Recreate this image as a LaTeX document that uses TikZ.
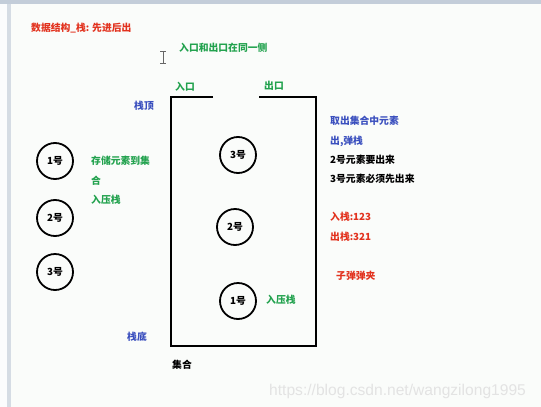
\documentclass[tikz,border=0pt]{standalone}
\usepackage{fontspec}
\setmainfont{Noto Sans CJK SC}
\newfontfamily\urlfont{Liberation Sans}
\usetikzlibrary{positioning}

\definecolor{noteRed}{HTML}{E2321E}
\definecolor{noteGreen}{HTML}{22A24E}
\definecolor{noteBlue}{HTML}{3A4FBE}
\definecolor{paper}{HTML}{FAFCFA}
\definecolor{frame}{HTML}{C3CDD9}

\begin{document}
\begin{tikzpicture}[
	x=1pt, y=-1pt,
	node distance=4pt,
	every node/.style={font=\bfseries\fontsize{9.8}{11}\selectfont, inner sep=1pt},
	label/.style={anchor=west},
	ball/.style={circle, draw, line width=1.8pt, minimum size=36pt, inner sep=0pt}]

\tikzstyle{wall}=[line width=2.6pt]

% screen frame
\fill[frame] (0,0) rectangle (541,407);
\fill[white!94!frame] (0,4) rectangle (541,407);
\fill[frame!70] (7,4) rectangle (11,407);
\fill[paper] (11,4) rectangle (541,407);
\useasboundingbox (0,0) rectangle (541,407);

% headings
\node[label, text=noteRed] (title) at (30,28) {数据结构\_栈: 先进后出};
\node[label, text=noteGreen] (side) at (178,48) {入口和出口在同一侧};

% text cursor
\draw[gray!80!black, line width=0.8pt]
	(160,51) -- (166,51) (163,51) -- (163,63) (160,63) -- (166,63);

% the stack container
\draw[wall] (213,97) -- (171,97) -- (171,346) -- (316,346) -- (316,97) -- (259,97);
\node[label, text=noteGreen] (inlet) at (174,87) {入口};
\node[label, text=noteGreen] (outlet) at (263,86) {出口};
\node[label, text=noteBlue] (top) at (133,106) {栈顶};
\node[label, text=noteBlue] (bottom) at (126,337) {栈底};
\node[label] (set) at (171,365) {集合};

% elements inside
\node[ball] (in3) at (238,155) {3号};
\node[ball] (in2) at (235,227) {2号};
\node[ball] (in1) at (238,301) {1号};
\node[label, text=noteGreen] (push) at (265,300) {入压栈};

% elements waiting outside
\node[ball] (out1) at (55,161) {1号};
\node[ball] (out2) at (55,218) {2号};
\node[ball] (out3) at (55,272) {3号};

% notes on the left
\node[label, text=noteGreen] (store) at (90,161) {存储元素到集};
\node[text=noteGreen, below=20pt of store.west, anchor=west] (store2) {合};
\node[text=noteGreen, below=19pt of store2.west, anchor=west] (storepush) {入压栈};

% notes on the right
\node[label, text=noteBlue] (take) at (329,121) {取出集合中元素};
\node[label, text=noteBlue] (pop) at (329,141) {出,弹栈};
\node[label] (two) at (329,160) {2号元素要出来};
\node[label] (three) at (329,179) {3号元素必须先出来};
\node[label, text=noteRed] (pushseq) at (329,217) {入栈:123};
\node[label, text=noteRed] (popseq) at (329,237) {出栈:321};
\node[label, text=noteRed] (clip) at (335,276) {子弹弹夹};

% watermark
\node[label, text=gray!22, font=\urlfont\fontsize{15.6}{17}\selectfont] (mark) at (268,391)
	{https://blog.csdn.net/wangzilong1995};

\end{tikzpicture}
\end{document}
